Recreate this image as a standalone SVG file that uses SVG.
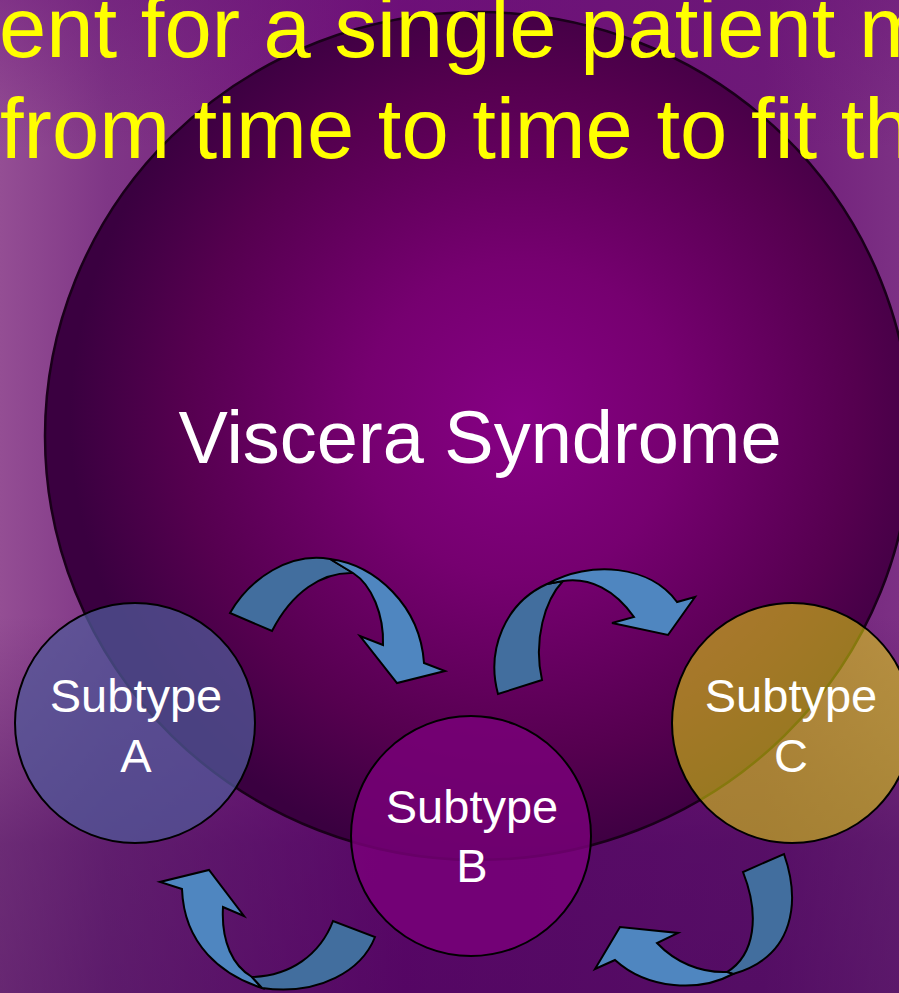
<svg xmlns="http://www.w3.org/2000/svg" width="899" height="993" viewBox="0 0 899 993">
<defs>
<linearGradient id="bgH" x1="0" y1="0" x2="1" y2="0">
<stop offset="0" stop-color="#944e94"/>
<stop offset="0.12" stop-color="#7f3686"/>
<stop offset="0.45" stop-color="#700c78"/>
<stop offset="0.85" stop-color="#6e1a78"/>
<stop offset="1" stop-color="#7c3084"/>
</linearGradient>
<linearGradient id="bgV" x1="0" y1="0" x2="0" y2="1">
<stop offset="0" stop-color="#3a0050" stop-opacity="0"/>
<stop offset="0.62" stop-color="#3a0050" stop-opacity="0"/>
<stop offset="0.85" stop-color="#3a0050" stop-opacity="0.45"/>
<stop offset="1" stop-color="#3a0050" stop-opacity="0.5"/>
</linearGradient>
<linearGradient id="bgT" x1="0" y1="0" x2="0" y2="1">
<stop offset="0" stop-color="#6a1478" stop-opacity="0.45"/>
<stop offset="0.15" stop-color="#6a1478" stop-opacity="0"/>
</linearGradient>
<radialGradient id="big" gradientUnits="userSpaceOnUse" cx="520" cy="420" r="450">
<stop offset="0" stop-color="#860084"/>
<stop offset="0.35" stop-color="#760070"/>
<stop offset="0.75" stop-color="#55004f"/>
<stop offset="1" stop-color="#3a0040"/>
</radialGradient>
<style>
.bgtxt{font-family:"Liberation Sans",Arial,sans-serif;font-size:85px;fill:#ffff00}
.lbl{font-family:"Liberation Sans",Arial,sans-serif;font-size:47px;fill:#ffffff;text-anchor:middle}
.node{stroke:#000;stroke-width:2}
.front{fill:#4f86c0;stroke:#000;stroke-width:2;stroke-linejoin:miter}
.back{fill:#426e9e;stroke:#000;stroke-width:2;stroke-linejoin:miter}
</style>
</defs>
<rect width="899" height="993" fill="url(#bgH)"/>
<rect width="899" height="993" fill="url(#bgV)"/>
<rect width="899" height="993" fill="url(#bgT)"/>

<g id="viscera">
<ellipse cx="478" cy="436" rx="433" ry="424" fill="url(#big)" stroke="#1a001a" stroke-width="2.5"/>
<text x="480" y="463" font-family="'Liberation Sans',Arial,sans-serif" font-size="74" fill="#ffffff" text-anchor="middle">Viscera Syndrome</text>
</g>

<g id="title">
<text class="bgtxt" x="-1" y="57">ent for a single patient m</text>
<text class="bgtxt" x="0" y="158">from time to time to fit th</text>
</g>

<g id="connectors">
<g id="arrow-a-b">
<path class="back" d="M230,613 C250,578 290,552 330,559 L353,573 C322,572 292,592 272,631 Z"/>
<path class="front" d="M330,559 C375,565 420,605 424,663 L445,671 L397,683 L360,636 L383,645 C384,615 372,585 353,573 Z"/>
</g>
<g id="arrow-b-c">
<path class="back" d="M498,694 C486,650 505,603 547,584 L563,581 C545,600 533,640 542,680 Z"/>
<path class="front" d="M547,584 C590,560 650,565 677,602 L695,597 L668,635 L612,623 L634,617 C615,590 590,577 563,581 Z"/>
</g>
<g id="arrow-b-a">
<path class="front" d="M182,889 L160,882 L209,870 L244,916 L223,907 C221,942 233,966 252,977 L262,988 C222,975 184,945 182,889 Z"/>
<path class="back" d="M252,977 C290,976 320,955 333,921 L375,937 C362,970 320,996 262,988 Z"/>
</g>
<g id="arrow-c-b">
<path class="back" d="M727,972 C755,955 760,915 743,872 L784,854 C800,900 796,956 733,974 Z"/>
<path class="front" d="M615,960 L595,969 L620,927 L678,933 L657,943 C675,962 700,973 727,972 L733,974 C700,992 648,990 615,960 Z"/>
</g>
</g>

<g id="subtype-a">
<circle class="node" cx="135" cy="723" r="120" fill="#505a9a" fill-opacity="0.72"/>
<text class="lbl" x="136" y="712">Subtype</text>
<text class="lbl" x="136" y="772">A</text>
</g>
<g id="subtype-b">
<circle class="node" cx="471" cy="836" r="120" fill="#7a007a" fill-opacity="0.8"/>
<text class="lbl" x="472" y="823">Subtype</text>
<text class="lbl" x="472" y="882">B</text>
</g>
<g id="subtype-c">
<circle class="node" cx="792" cy="723" r="120" fill="#f2f000" fill-opacity="0.5"/>
<text class="lbl" x="791" y="712">Subtype</text>
<text class="lbl" x="791" y="772">C</text>
</g>
</svg>
